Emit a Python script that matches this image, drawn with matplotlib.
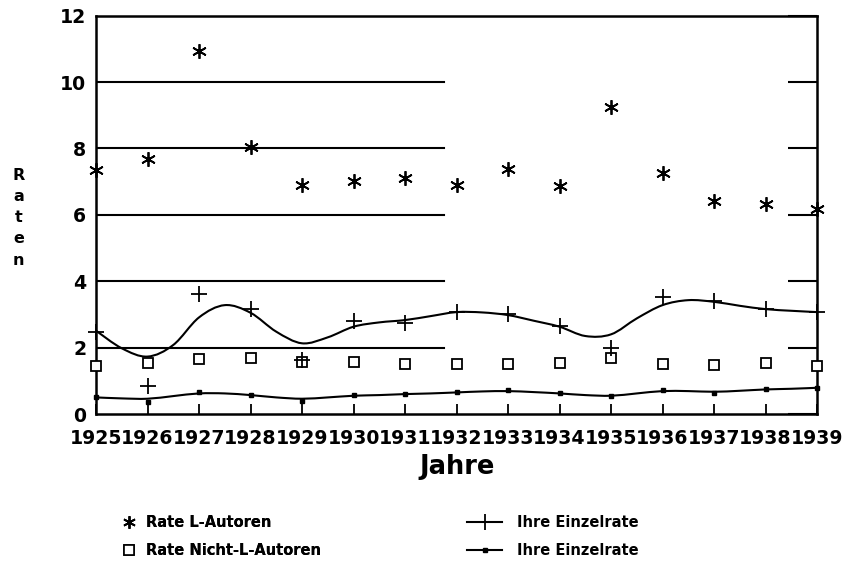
import numpy as np
import matplotlib
matplotlib.use("Agg")
import matplotlib.pyplot as plt
from matplotlib.lines import Line2D
from matplotlib.path import Path
from matplotlib.patches import PathPatch

plt.rcParams["font.family"] = ["DejaVu Sans"]
plt.rcParams["font.weight"] = "bold"

years = list(range(1925, 1940))
rate_l = [7.35, 7.68, 10.94, 8.05, 6.90, 7.02, 7.12, 6.90, 7.37, 6.87,
          9.24, 7.27, 6.41, 6.33, 6.17]
rate_nicht_l = [1.45, 1.53, 1.67, 1.68, 1.58, 1.58, 1.50, 1.52, 1.52, 1.53,
                1.68, 1.50, 1.49, 1.54, 1.45]
einzel_l = [2.48, 0.84, 3.61, 3.16, 1.63, 2.81, 2.73, 3.08, 3.01, 2.65,
            2.00, 3.53, 3.41, 3.16, 3.08]
einzel_nicht_l = [0.50, 0.37, 0.66, 0.56, 0.40, 0.56, 0.60, 0.65, 0.72, 0.62,
                  0.53, 0.72, 0.64, 0.76, 0.79]

fit_years = np.arange(1925, 1939.5, 0.5)
fit_l = [2.51, 1.98, 1.73, 2.08, 2.91, 3.28, 3.05, 2.48, 2.13, 2.31,
         2.63, 2.76, 2.83, 2.95, 3.07, 3.06, 2.98, 2.81, 2.63, 2.35,
         2.40, 2.88, 3.28, 3.43, 3.38, 3.26, 3.16, 3.11, 3.07]
fit_nicht_l = [0.50, 0.47, 0.46, 0.54, 0.62, 0.62, 0.57, 0.50, 0.46, 0.50,
               0.55, 0.57, 0.60, 0.62, 0.65, 0.68, 0.69, 0.66, 0.62, 0.57,
               0.55, 0.62, 0.69, 0.69, 0.67, 0.70, 0.74, 0.76, 0.79]

y_ticks = [0, 2, 4, 6, 8, 10, 12]


def smooth_path(xs, ys):
    pts = list(zip(xs, ys))
    n = len(pts)
    verts = [pts[0]]
    codes = [Path.MOVETO]
    for i in range(n - 1):
        p0 = pts[max(i - 1, 0)]
        p1 = pts[i]
        p2 = pts[i + 1]
        p3 = pts[min(i + 2, n - 1)]
        c1 = (p1[0] + (p2[0] - p0[0]) / 6, p1[1] + (p2[1] - p0[1]) / 6)
        c2 = (p2[0] - (p3[0] - p1[0]) / 6, p2[1] - (p3[1] - p1[1]) / 6)
        verts += [c1, c2, p2]
        codes += [Path.CURVE4] * 3
    return Path(verts, codes)


fig = plt.figure(figsize=(8.43, 5.69), dpi=100)
ax = fig.add_axes([0.1139, 0.2724, 0.8553, 0.7000])
ax.set_xlim(1925, 1939)
ax.set_ylim(0, 12)

# broken gridlines as in the original
for y in y_ticks[1:-1]:
    ax.axhline(y, xmin=0, xmax=0.4827, color="black", lw=1.5)

star = (6, 2, 0)
ax.plot(years, rate_l, ls="none", marker=star, ms=10.5, mew=1.3,
        color="black", clip_on=False, zorder=4)
ax.plot(years, rate_nicht_l, ls="none", marker="s", ms=7.5, mew=1.3,
        mfc="white", mec="black", clip_on=False, zorder=4)
ax.plot(years, einzel_l, ls="none", marker="+", ms=11.5, mew=1.3,
        color="black", clip_on=False, zorder=4)
ax.plot(years, einzel_nicht_l, ls="none", marker="s", ms=3.2,
        color="black", clip_on=False, zorder=4)

ax.add_patch(PathPatch(smooth_path(fit_years, fit_l), fill=False,
                       lw=1.5, edgecolor="black", zorder=3))
ax.add_patch(PathPatch(smooth_path(fit_years, fit_nicht_l), fill=False,
                       lw=1.5, edgecolor="black", zorder=3))

for sp in ax.spines.values():
    sp.set_linewidth(1.8)

ax.set_xticks(years)
ax.set_xticklabels([str(y) for y in years], fontsize=13.6, fontweight="bold")
ax.set_yticks(y_ticks)
ax.set_yticklabels([str(y) for y in y_ticks], fontsize=13.6, fontweight="bold")
ax.tick_params(axis="x", direction="in", length=7, width=1.3, pad=11)
ax.tick_params(axis="y", direction="in", length=21, width=1.5, pad=7,
               left=False, right=True, labelleft=True)

fig.text(0.542, 0.179, "Jahre", ha="center", va="center",
         fontsize=18.5, fontweight="bold")
for i, ch in enumerate("Raten"):
    fig.text(0.022, 1 - (175 + 21.3 * i) / 569, ch, ha="center", va="center",
             fontsize=11.5, fontweight="bold")

h1 = [Line2D([], [], ls="none", marker=star, ms=9, mew=1.2, color="black"),
      Line2D([], [], ls="none", marker="s", ms=7, mew=1.2, mfc="white",
             mec="black")]
h2 = [Line2D([], [], color="black", lw=1.5, marker="+", ms=11, mew=1.3),
      Line2D([], [], color="black", lw=1.5, marker="s", ms=3.2)]
leg1 = fig.legend(h1, ["Rate L-Autoren", "Rate Nicht-L-Autoren"],
                  loc="upper left", bbox_to_anchor=(0.1423, 0.095),
                  frameon=False, borderpad=0, borderaxespad=0,
                  handlelength=1.2, handletextpad=0.6, labelspacing=0.9,
                  prop={"size": 10.5, "weight": "bold"})
leg2 = fig.legend(h2, ["Ihre Einzelrate", "Ihre Einzelrate"],
                  loc="upper left", bbox_to_anchor=(0.554, 0.095),
                  frameon=False, borderpad=0, borderaxespad=0,
                  handlelength=2.4, handletextpad=1.0, labelspacing=0.9,
                  prop={"size": 10.5, "weight": "bold"})
fig.add_artist(leg1)

fig.savefig("out.png", dpi=100)
